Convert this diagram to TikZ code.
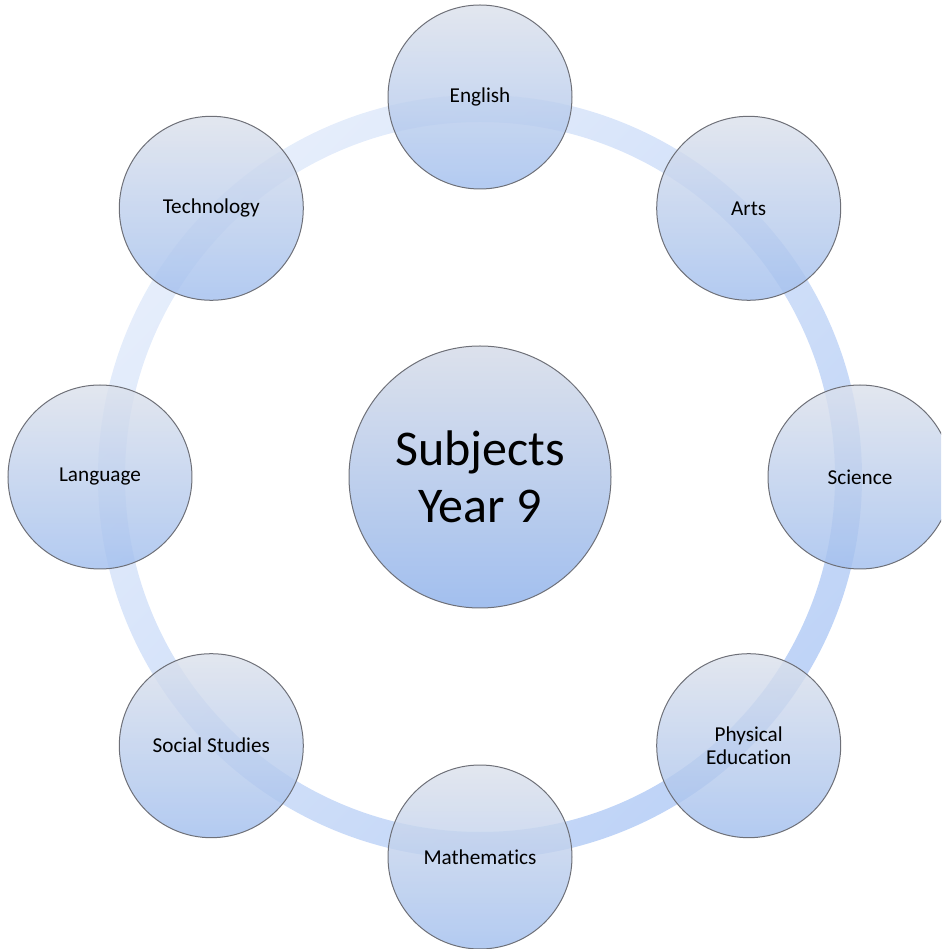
\documentclass[tikz,border=0pt]{standalone}
\usepackage{fontspec}
\setmainfont{Carlito}[Ligatures=NoCommon]
\definecolor{ctop}{RGB}{220,225,236}
\definecolor{cbot}{RGB}{162,191,238}
\definecolor{ringA}{RGB}{230,238,251}
\definecolor{ringB}{RGB}{190,211,247}
\definecolor{edgegray}{RGB}{110,112,120}
\tikzset{
  bubble/.style={circle, inner sep=0pt, minimum size=184pt, draw=edgegray, line width=1pt,
    top color=ctop, bottom color=cbot, fill opacity=0.82, text opacity=1,
    font=\fontsize{21.2}{23.5}\selectfont, align=center},
  hub/.style={bubble, minimum size=262pt, fill opacity=1, font=\fontsize{50}{57}\selectfont}
}
\begin{document}
\begin{tikzpicture}[x=1pt,y=1pt]
\useasboundingbox (-480,-472) rectangle (461,477);
\clip (-480,-472) rectangle (461,477);
% ring
\shade[even odd rule, top color=ringA, bottom color=ringB, shading angle=45]
  (0,0) circle (382) (0,0) circle (355);
% hub
\node[hub] (c) at (0,0) {Subjects\\Year 9};
% satellites
\node[bubble] (eng) at (90:380) {English};
\node[bubble] (art) at (45:380) {Arts};
\node[bubble] (sci) at (0:380) {Science};
\node[bubble] (pe) at (-45:380) {Physical\\Education};
\node[bubble] (mat) at (-90:380) {Mathematics};
\node[bubble] (soc) at (-135:380) {Social Studies};
\node[bubble] (lan) at (180:380) {Language};
\node[bubble] (tec) at (135:380) {Technology};
\end{tikzpicture}
\end{document}
